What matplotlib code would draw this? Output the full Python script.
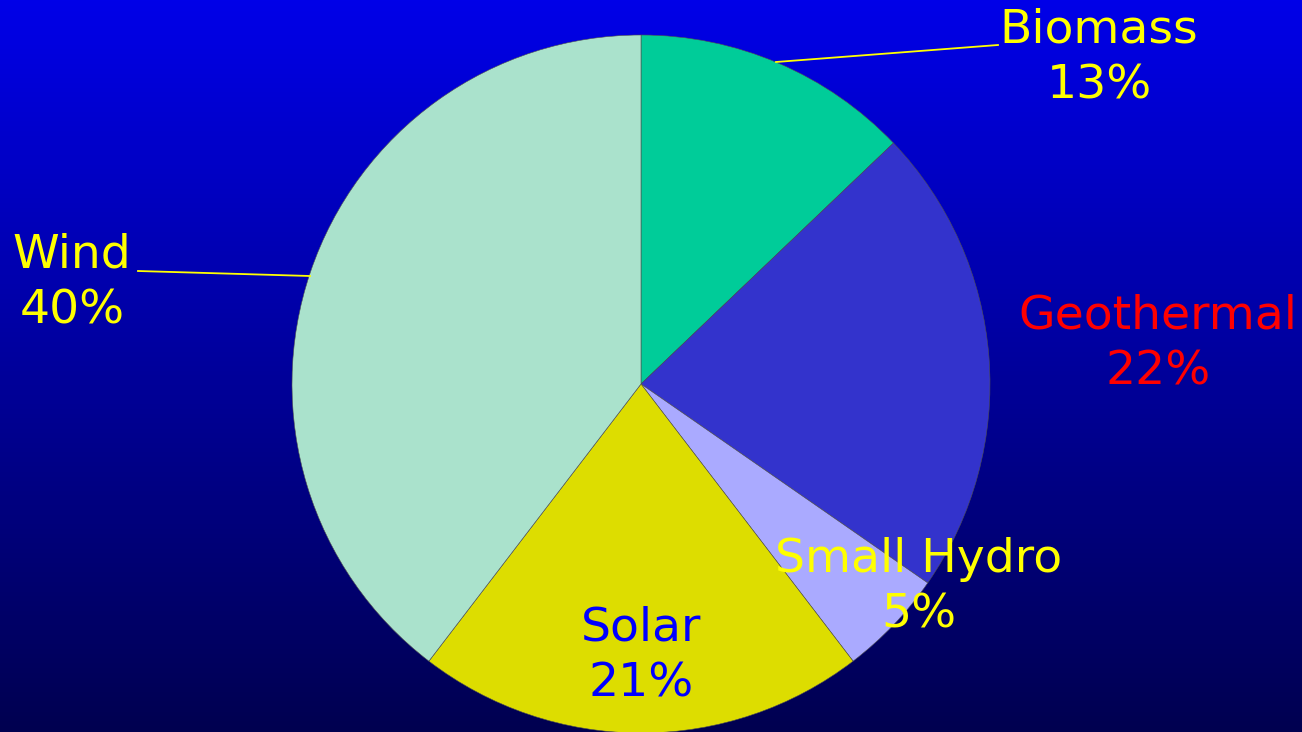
import numpy as np
import matplotlib.pyplot as plt
from matplotlib.colors import LinearSegmentedColormap

# parts du renouvelable (%)
sources = ['Biomass', 'Geothermal', 'Small Hydro', 'Solar', 'Wind']
parts = [13, 22, 5, 21, 40]
couleurs = ['#00CC99', '#3333CC', '#AAAAFF', '#DDDD00', '#AAE2CC']
couleurs_txt = ['#FFFF00', '#FF0000', '#FFFF00', '#0000FF', '#FFFF00']

W, H = 1302, 732
fig = plt.figure(figsize=(W / 100, H / 100), dpi=100)

# fond en dégradé bleu
fond = fig.add_axes([0, 0, 1, 1])
degrade = LinearSegmentedColormap.from_list('fond', ['#0000E8', '#000050'])
fond.imshow(np.linspace(0, 1, 256).reshape(-1, 1), aspect='auto', cmap=degrade,
            extent=[0, W, H, 0])
fond.set_xlim(0, W)
fond.set_ylim(H, 0)
fond.axis('off')

# camembert : centre (641, 384) px, rayon 349 px
cx, cy, r = 641, 384, 349
ax = fig.add_axes([(cx - r) / W, (H - cy - r) / H, 2 * r / W, 2 * r / H])
wedges, _ = ax.pie(parts, colors=couleurs, startangle=90, counterclock=False,
                   wedgeprops=dict(edgecolor='#505050', linewidth=0.4))
ax.set_xlim(-1, 1)
ax.set_ylim(-1, 1)
ax.set_aspect('equal')

# étiquettes (position en pixels)
pos = {'Biomass': (1099, 58), 'Geothermal': (1158, 344), 'Small Hydro': (919, 587),
       'Solar': (641, 656), 'Wind': (72, 283)}
for src, p, c in zip(sources, parts, couleurs_txt):
    x, y = pos[src]
    fig.text(x, y, f'{src}\n{p}%', color=c, fontsize=34, ha='center', va='center',
             linespacing=1.29, family='DejaVu Sans', transform=fond.transData)

# traits de rappel
fig.add_artist(plt.Line2D([776, 998], [62, 45], color='#FFFF00', lw=1.3,
                          transform=fond.transData))
fig.add_artist(plt.Line2D([138, 310], [271, 276], color='#FFFF00', lw=1.3,
                          transform=fond.transData))

plt.savefig('out.png', dpi=100)
